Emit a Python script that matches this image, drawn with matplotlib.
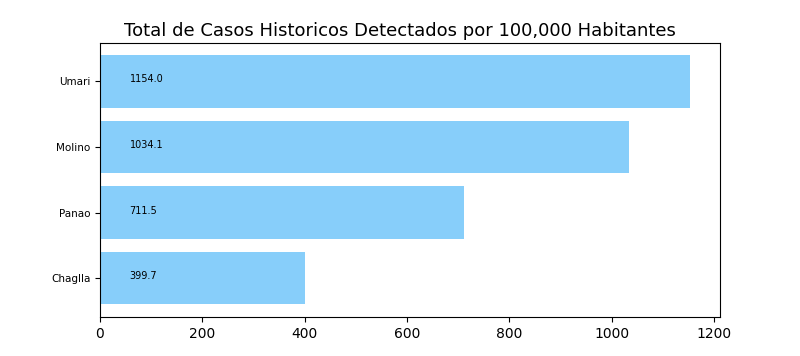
import matplotlib
matplotlib.use("Agg")
import matplotlib.pyplot as plt

distritos = ["Chaglla", "Panao", "Molino", "Umari"]
casos = [399.7, 711.5, 1034.1, 1154.0]

fig, ax = plt.subplots(figsize=(8, 3.56), dpi=100)
ax.barh(distritos, casos, color="lightskyblue")
for i, v in enumerate(casos):
    ax.text(58, i - 0.015, str(v), fontsize=7)
ax.tick_params(axis="y", labelsize=7.5)
ax.set_title("Total de Casos Historicos Detectados por 100,000 Habitantes",
             fontsize=13, x=0.484, pad=4.5)
fig.savefig("out.png", dpi=100)
